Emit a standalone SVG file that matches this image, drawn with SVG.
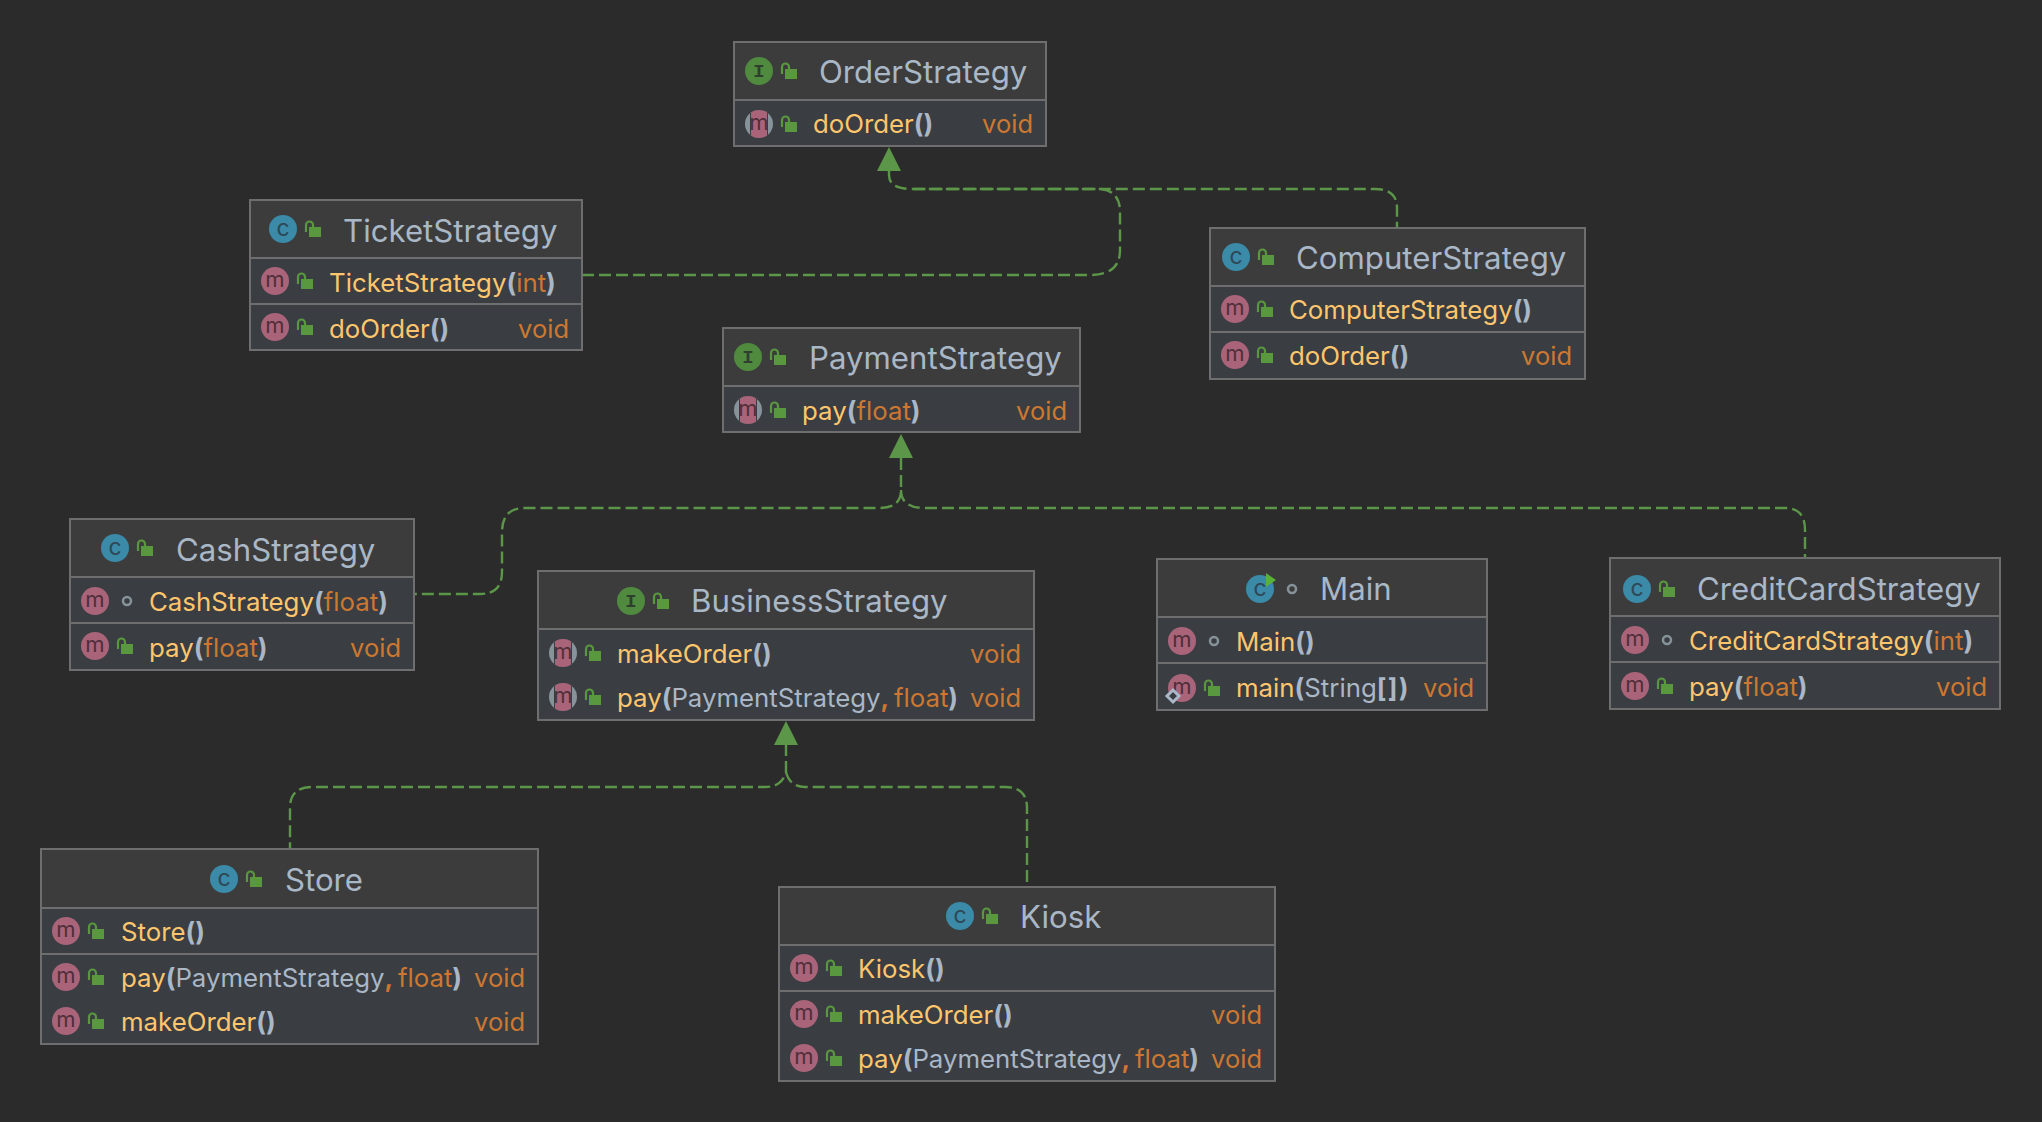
<svg xmlns="http://www.w3.org/2000/svg" width="2042" height="1122" viewBox="0 0 2042 1122">
<style>
text{font-family:"Inter","Liberation Sans",sans-serif}
.box{fill:#3a3d41;stroke:#6e6e6e;stroke-width:2}
.head{fill:#3c3c3c}
.div{stroke:#6e6e6e;stroke-width:2;fill:none}
.t{font-size:31.2px;fill:#a9b7c6}
.m{font-size:25.8px;fill:#ffc66d}
.p{fill:#a9b7c6;font-weight:700}
.a{fill:#a9b7c6}
.y{fill:#cc7832}
.v{font-size:25.5px;fill:#cc7832;text-anchor:end}
.c{fill:none;stroke:#5c9648;stroke-width:2.4;stroke-dasharray:12 5}
.h{fill:#5c9648}
</style>
<defs>
<clipPath id="cc"><circle r="14"/></clipPath>
<g id="lock"><rect x="26" y="-2" width="12" height="10" fill="#59983f"/><path d="M23,3V-4a3.5,3.5 0 0 1 7,0V-1" fill="none" stroke="#59983f" stroke-width="2.2"/></g>
<g id="dot"><circle cx="32" cy="0" r="4" fill="none" stroke="#87939a" stroke-width="2.5"/></g>
<g id="im"><circle r="14" fill="#a9647a"/><text y="6" text-anchor="middle" font-size="22" fill="#4f2f39">m</text></g>
<g id="ia"><circle r="14" fill="#87939a"/><g clip-path="url(#cc)"><rect x="-9" y="-14" width="18" height="28" fill="#3a3d41"/><rect x="-8" y="-14" width="16" height="28" rx="3" fill="#a9647a"/></g><text y="6" text-anchor="middle" font-size="22" fill="#4f2f39">m</text></g>
<g id="ic"><circle r="14" fill="#3a8aa8"/><text y="7" text-anchor="middle" font-size="23" fill="#2f4754">c</text></g>
<g id="ii"><circle r="14" fill="#4f8a3e"/><text y="6" text-anchor="middle" font-size="19" font-weight="700" style="font-family:'Liberation Mono',monospace" fill="#2f3f2f">I</text></g>
</defs>
<rect width="2042" height="1122" fill="#2b2b2b"/>
<g id="connectors">
<path class="c" d="M889,171V175Q889,189 912,189H1375Q1397,189 1397,208V228"/>
<path class="c" d="M582,275H1090Q1120,275 1120,250V212Q1120,189 1097,189H912"/>
<path class="c" d="M901,458V490Q901,508 880,508H525Q502,508 502,532V572Q502,594 480,594H414"/>
<path class="c" d="M901,490Q901,508 925,508H1785Q1805,508 1805,530V558"/>
<path class="c" d="M786,744V772Q782,787 765,787H312Q290,787 290,808V849"/>
<path class="c" d="M786,772Q790,787 805,787H1005Q1027,787 1027,808V887"/>
<polygon class="h" points="889,147 877,171 901,171"/>
<polygon class="h" points="901,434 889,458 913,458"/>
<polygon class="h" points="786,721 774,745 798,745"/>
</g>
<g id="OrderStrategy">
<rect class="box" x="734" y="42" width="312" height="104"/><rect class="head" x="735" y="43" width="310" height="57"/><path class="div" d="M734,100H1046"/>
<use href="#ii" x="759" y="71"/><use href="#lock" x="759" y="71"/><text class="t" x="819" y="83">OrderStrategy</text>
<use href="#ia" x="759" y="124"/><use href="#lock" x="759" y="124"/><text class="m" x="813" y="133">doOrder<tspan class="p">()</tspan></text><text class="v" x="1033" y="133">void</text>
</g>
<g id="TicketStrategy">
<rect class="box" x="250" y="200" width="332" height="150"/><rect class="head" x="251" y="201" width="330" height="57"/><path class="div" d="M250,258H582M250,304H582"/>
<use href="#ic" x="283" y="229"/><use href="#lock" x="283" y="229"/><text class="t" x="343" y="242">TicketStrategy</text>
<use href="#im" x="275" y="281"/><use href="#lock" x="275" y="281"/><text class="m" x="329" y="292">TicketStrategy<tspan class="p">(</tspan><tspan class="y">int</tspan><tspan class="p">)</tspan></text>
<use href="#im" x="275" y="327"/><use href="#lock" x="275" y="327"/><text class="m" x="329" y="338">doOrder<tspan class="p">()</tspan></text><text class="v" x="569" y="338">void</text>
</g>
<g id="ComputerStrategy">
<rect class="box" x="1210" y="228" width="375" height="151"/><rect class="head" x="1211" y="229" width="373" height="57"/><path class="div" d="M1210,286H1585M1210,332H1585"/>
<use href="#ic" x="1236" y="257"/><use href="#lock" x="1236" y="257"/><text class="t" x="1296" y="269">ComputerStrategy</text>
<use href="#im" x="1235" y="309"/><use href="#lock" x="1235" y="309"/><text class="m" x="1289" y="319">ComputerStrategy<tspan class="p">()</tspan></text>
<use href="#im" x="1235" y="355"/><use href="#lock" x="1235" y="355"/><text class="m" x="1289" y="365">doOrder<tspan class="p">()</tspan></text><text class="v" x="1572" y="365">void</text>
</g>
<g id="PaymentStrategy">
<rect class="box" x="723" y="328" width="357" height="104"/><rect class="head" x="724" y="329" width="355" height="57"/><path class="div" d="M723,386H1080"/>
<use href="#ii" x="748" y="357"/><use href="#lock" x="748" y="357"/><text class="t" x="809" y="369">PaymentStrategy</text>
<use href="#ia" x="748" y="410"/><use href="#lock" x="748" y="410"/><text class="m" x="802" y="420">pay<tspan class="p">(</tspan><tspan class="y">float</tspan><tspan class="p">)</tspan></text><text class="v" x="1067" y="420">void</text>
</g>
<g id="CashStrategy">
<rect class="box" x="70" y="519" width="344" height="151"/><rect class="head" x="71" y="520" width="342" height="57"/><path class="div" d="M70,577H414M70,623H414"/>
<use href="#ic" x="115" y="548"/><use href="#lock" x="115" y="548"/><text class="t" x="176" y="561">CashStrategy</text>
<use href="#im" x="95" y="601"/><use href="#dot" x="95" y="601"/><text class="m" x="149" y="611">CashStrategy<tspan class="p">(</tspan><tspan class="y">float</tspan><tspan class="p">)</tspan></text>
<use href="#im" x="95" y="646"/><use href="#lock" x="95" y="646"/><text class="m" x="149" y="657">pay<tspan class="p">(</tspan><tspan class="y">float</tspan><tspan class="p">)</tspan></text><text class="v" x="401" y="657">void</text>
</g>
<g id="BusinessStrategy">
<rect class="box" x="538" y="571" width="496" height="149"/><rect class="head" x="539" y="572" width="494" height="57"/><path class="div" d="M538,629H1034"/>
<use href="#ii" x="631" y="601"/><use href="#lock" x="631" y="601"/><text class="t" x="691" y="612">BusinessStrategy</text>
<use href="#ia" x="563" y="653"/><use href="#lock" x="563" y="653"/><text class="m" x="617" y="663">makeOrder<tspan class="p">()</tspan></text><text class="v" x="1021" y="663">void</text>
<use href="#ia" x="563" y="697"/><use href="#lock" x="563" y="697"/><text class="m" x="617" y="707">pay<tspan class="p">(</tspan><tspan class="a">PaymentStrategy</tspan><tspan class="y" font-weight="700">,</tspan><tspan class="y" dx="-2.5"> float</tspan><tspan class="p">)</tspan></text><text class="v" x="1021" y="707">void</text>
</g>
<g id="Main">
<rect class="box" x="1157" y="559" width="330" height="151"/><rect class="head" x="1158" y="560" width="328" height="57"/><path class="div" d="M1157,617H1487M1157,663H1487"/>
<use href="#ic" x="1260" y="589"/><polygon points="1266,573 1276,580 1266,587" fill="#59b03a"/><use href="#dot" x="1260" y="589"/><text class="t" x="1320" y="600">Main</text>
<use href="#im" x="1182" y="641"/><use href="#dot" x="1182" y="641"/><text class="m" x="1236" y="651">Main<tspan class="p">()</tspan></text>
<use href="#im" x="1182" y="688"/><path d="M1173,690l6,6l-6,6l-6,-6z" fill="#3a3d41" stroke="#a9b7c6" stroke-width="3"/><use href="#lock" x="1182" y="688"/><text class="m" x="1236" y="697">main<tspan class="p">(</tspan><tspan class="a">String</tspan><tspan class="p" letter-spacing="1.3">[])</tspan></text><text class="v" x="1474" y="697">void</text>
</g>
<g id="CreditCardStrategy">
<rect class="box" x="1610" y="558" width="390" height="151"/><rect class="head" x="1611" y="559" width="388" height="58"/><path class="div" d="M1610,616H2000M1610,662H2000"/>
<use href="#ic" x="1637" y="589"/><use href="#lock" x="1637" y="589"/><text class="t" x="1697" y="600">CreditCardStrategy</text>
<use href="#im" x="1635" y="640"/><use href="#dot" x="1635" y="640"/><text class="m" x="1689" y="650">CreditCardStrategy<tspan class="p">(</tspan><tspan class="y">int</tspan><tspan class="p">)</tspan></text>
<use href="#im" x="1635" y="686"/><use href="#lock" x="1635" y="686"/><text class="m" x="1689" y="696">pay<tspan class="p">(</tspan><tspan class="y">float</tspan><tspan class="p">)</tspan></text><text class="v" x="1987" y="696">void</text>
</g>
<g id="Store">
<rect class="box" x="41" y="849" width="497" height="195"/><rect class="head" x="42" y="850" width="495" height="58"/><path class="div" d="M41,908H538M41,954H538"/>
<use href="#ic" x="224" y="879"/><use href="#lock" x="224" y="879"/><text class="t" x="285" y="891">Store</text>
<use href="#im" x="66" y="931"/><use href="#lock" x="66" y="931"/><text class="m" x="121" y="941">Store<tspan class="p">()</tspan></text>
<use href="#im" x="66" y="977"/><use href="#lock" x="66" y="977"/><text class="m" x="121" y="987">pay<tspan class="p">(</tspan><tspan class="a">PaymentStrategy</tspan><tspan class="y" font-weight="700">,</tspan><tspan class="y" dx="-2.5"> float</tspan><tspan class="p">)</tspan></text><text class="v" x="525" y="987">void</text>
<use href="#im" x="66" y="1021"/><use href="#lock" x="66" y="1021"/><text class="m" x="121" y="1031">makeOrder<tspan class="p">()</tspan></text><text class="v" x="525" y="1031">void</text>
</g>
<g id="Kiosk">
<rect class="box" x="779" y="887" width="496" height="194"/><rect class="head" x="780" y="888" width="494" height="57"/><path class="div" d="M779,945H1275M779,991H1275"/>
<use href="#ic" x="960" y="916"/><use href="#lock" x="960" y="916"/><text class="t" x="1020" y="928">Kiosk</text>
<use href="#im" x="804" y="968"/><use href="#lock" x="804" y="968"/><text class="m" x="858" y="978">Kiosk<tspan class="p">()</tspan></text>
<use href="#im" x="804" y="1014"/><use href="#lock" x="804" y="1014"/><text class="m" x="858" y="1024">makeOrder<tspan class="p">()</tspan></text><text class="v" x="1262" y="1024">void</text>
<use href="#im" x="804" y="1058"/><use href="#lock" x="804" y="1058"/><text class="m" x="858" y="1068">pay<tspan class="p">(</tspan><tspan class="a">PaymentStrategy</tspan><tspan class="y" font-weight="700">,</tspan><tspan class="y" dx="-2.5"> float</tspan><tspan class="p">)</tspan></text><text class="v" x="1262" y="1068">void</text>
</g>
</svg>
